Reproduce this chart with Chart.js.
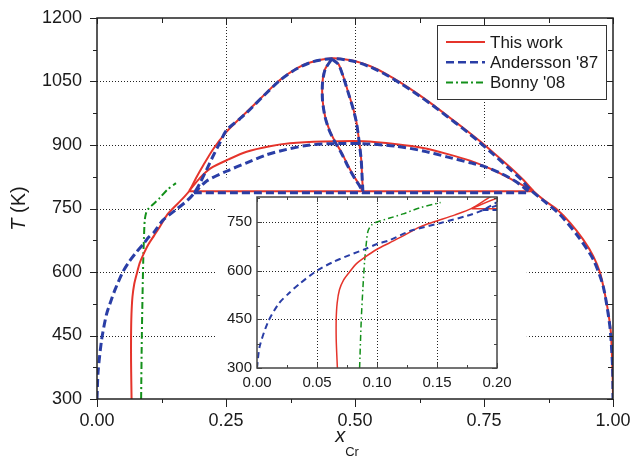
<!DOCTYPE html>
<html>
<head>
<meta charset="utf-8">
<script src="https://cdn.jsdelivr.net/npm/chart.js@4"></script>
<style>
  body { margin: 0; background: #fff; }
  #wrap { position: relative; width: 632px; height: 460px; background: #fff; }
  #main { position: absolute; left: 0; top: 0; }
  #inset { position: absolute; left: 216px; top: 180px; }
</style>
</head>
<body>
<div id="wrap">
  <canvas id="main" width="632" height="460"></canvas>
  <canvas id="inset" width="300" height="212"></canvas>
</div>
<script>
// tick values
const mainXTicks = [0, 0.25, 0.5, 0.75, 1];
const mainYTicks = [300, 450, 600, 750, 900, 1050, 1200];
const insetXTicks = [0, 0.05, 0.1, 0.15, 0.2];
const insetYTicks = [300, 450, 600, 750];

// This work (red) : [x_Cr, T]
const redOuter = [[0.067,300],[0.0665,340],[0.066,390],[0.066,450],[0.0668,500],[0.0687,541],
  [0.0721,571],[0.0771,596],[0.0827,621],[0.0897,641],[0.10,666],[0.1106,686],[0.1218,707],
  [0.1358,735],[0.147,750],[0.165,772],[0.179,792],[0.192,822],[0.206,852],[0.225,890],[0.251,931],
  [0.277,963],[0.29,978],[0.322,1016],[0.355,1054],[0.387,1081],[0.413,1095],[0.455,1105],[0.497,1099],
  [0.53,1086],[0.56,1068],[0.59,1046],[0.62,1022],[0.65,996],[0.68,968],[0.71,940],[0.74,911],
  [0.77,880],[0.80,848],[0.825,819],[0.846,791],[0.865,771],[0.891,748],[0.917,716],[0.942,677],
  [0.962,637],[0.975,598],[0.984,550],[0.991,503],[0.996,456],[0.998,400],[0.9995,340],[1.0,300]];
const redInner = [[0.179,792],[0.200,823],[0.22,845],[0.255,866],[0.29,884],[0.335,897],[0.374,904],
  [0.439,908],[0.516,909],[0.581,902],[0.632,893],[0.678,879],[0.723,863],[0.762,844],[0.80,821],[0.846,791]];
const redTie = [[0.179,791],[0.846,791]];
const redLens = [[0.455,1104],[0.468,1091],[0.477,1063],[0.487,1024],[0.497,984],[0.503,953],[0.508,909],
  [0.512,866],[0.514,819],[0.515,790],[0.51,803],[0.5,822],[0.487,850],[0.474,882],[0.461,909],
  [0.450,937],[0.442,968],[0.437,1008],[0.437,1048],[0.442,1079],[0.455,1104]];

// Andersson '87 (blue)
const blueOuter = [[0.0,300],[0.0022,366],[0.0092,442],[0.0184,500],[0.0268,531],[0.0352,559],[0.05,600],
  [0.0631,626],[0.0771,648],[0.0911,668],[0.10,682],[0.1106,694],[0.1274,722],[0.153,747],[0.175,769],
  [0.188,786],[0.2,811],[0.2125,842],[0.225,874],[0.238,905],[0.251,935],[0.277,962],[0.29,976],
  [0.322,1015],[0.355,1053],[0.387,1080],[0.419,1097],[0.455,1104],[0.497,1098],[0.53,1084],
  [0.56,1066],[0.59,1044],[0.62,1020],[0.65,994],[0.68,966],[0.71,938],[0.74,908],[0.77,876],
  [0.80,843],[0.82,821],[0.839,795],[0.871,763],[0.897,736],[0.930,688],[0.962,629],[0.981,566],
  [0.994,471],[0.999,380],[1.0,300]];
const blueInner = [[0.188,786],[0.2126,815],[0.251,838],[0.29,858],[0.329,877],[0.355,886],[0.406,899],
  [0.452,903],[0.516,903],[0.581,897],[0.632,886],[0.678,872],[0.723,858],[0.749,850],[0.781,834],
  [0.81,815],[0.836,791]];
const blueTie = [[0.188,787],[0.836,787]];
const blueLens = [[0.455,1103],[0.468,1090],[0.477,1062],[0.487,1023],[0.497,983],[0.503,952],[0.508,908],
  [0.512,865],[0.514,818],[0.515,788],[0.51,801],[0.5,820],[0.487,848],[0.474,880],[0.461,907],
  [0.450,935],[0.442,966],[0.437,1006],[0.437,1046],[0.442,1078],[0.455,1103]];

// Bonny '08 (green)
const greenSolvus = [[0.0855,300],[0.0869,450],[0.0883,549],[0.0897,631],[0.091,681],[0.0925,722],
  [0.0953,740],[0.10,750],[0.1106,762],[0.1218,775],[0.1358,794],[0.153,810]];

const RED = '#e5342b', BLUE = '#2a3ea6', GREEN = '#13901a';
const FONT = "'Liberation Sans', Arial, sans-serif";

function series(pts, color, width, dash) {
  return {
    data: pts.map(p => ({ x: p[0], y: p[1] })),
    borderColor: color, backgroundColor: color, borderWidth: width,
    borderDash: dash, pointRadius: 0, showLine: true, fill: false, tension: 0.25
  };
}

function buildSets(small) {
  const bw = small ? 2 : 3, rw = small ? 1.5 : 2, gw = small ? 1.5 : 2;
  const bd = small ? [6, 4] : [8, 4];
  const gd = small ? [6, 3, 1.5, 3] : [7, 3, 2, 3];
  return [
    series(blueOuter, BLUE, bw, bd), series(blueInner, BLUE, bw, bd),
    series(blueTie, BLUE, bw, bd), series(blueLens, BLUE, bw, bd),
    series(redOuter, RED, rw, []), series(redInner, RED, rw, []),
    series(redTie, RED, rw, []), series(redLens, RED, rw, []),
    series(greenSolvus, GREEN, gw, gd)
  ];
}

// grid, frame, ticks, legend, titles
const decor = {
  id: 'decor',
  beforeDatasetsDraw(chart, args, o) {
    const { ctx, chartArea: a, scales: { x, y } } = chart;
    ctx.save();
    ctx.strokeStyle = '#222';
    ctx.lineWidth = 1;
    ctx.setLineDash([1, 2]);
    ctx.beginPath();
    o.gridX.forEach(v => {
      const p = Math.round(x.getPixelForValue(v)) + 0.5;
      ctx.moveTo(p, a.top); ctx.lineTo(p, a.bottom);
    });
    o.gridY.forEach(v => {
      const p = Math.round(y.getPixelForValue(v)) + 0.5;
      ctx.moveTo(a.left, p); ctx.lineTo(a.right, p);
    });
    ctx.stroke();
    ctx.setLineDash([]);
    if (o.mask) {
      const m = o.mask;
      const l = x.getPixelForValue(m[0]), r = x.getPixelForValue(m[1]);
      const t = y.getPixelForValue(m[3]);
      ctx.fillStyle = '#fff';
      ctx.fillRect(l, t, r - l, a.bottom - t - 1);
    }
    ctx.restore();
  },
  afterDatasetsDraw(chart, args, o) {
    const { ctx, chartArea: a, scales: { x, y } } = chart;
    ctx.save();
    ctx.strokeStyle = o.frameColor;
    ctx.lineWidth = 1.5;
    ctx.setLineDash([]);
    ctx.strokeRect(a.left, a.top, a.right - a.left, a.bottom - a.top);
    ctx.lineWidth = 1;
    ctx.beginPath();
    const t = o.ticks;
    for (let v = x.min; v <= x.max + 1e-9; v += t.xMinor) {
      const major = Math.abs(v / t.xMajor - Math.round(v / t.xMajor)) < 1e-6;
      const p = Math.round(x.getPixelForValue(v)) + 0.5;
      const lb = major ? t.bottom[0] : t.bottom[1];
      const lt = major ? t.top[0] : t.top[1];
      ctx.moveTo(p, a.bottom); ctx.lineTo(p, a.bottom + lb);
      ctx.moveTo(p, a.top); ctx.lineTo(p, a.top + lt);
    }
    for (let v = y.min; v <= y.max + 1e-9; v += t.yMinor) {
      const major = Math.abs(v / t.yMajor - Math.round(v / t.yMajor)) < 1e-6;
      const p = Math.round(y.getPixelForValue(v)) + 0.5;
      const ll = major ? t.left[0] : t.left[1];
      const lr = major ? t.right[0] : t.right[1];
      ctx.moveTo(a.left, p); ctx.lineTo(a.left - ll, p);
      ctx.moveTo(a.right, p); ctx.lineTo(a.right - lr, p);
    }
    ctx.stroke();
    ctx.restore();
  },
  afterDraw(chart, args, o) {
    if (!o.legend) return;
    const { ctx, chartArea: a } = chart;
    ctx.save();
    // legend box
    const L = o.legend;
    ctx.fillStyle = '#fff';
    ctx.fillRect(L.x, L.y, L.w, L.h);
    ctx.strokeStyle = '#333';
    ctx.lineWidth = 1;
    ctx.strokeRect(L.x + 0.5, L.y + 0.5, L.w, L.h);
    ctx.font = '17px ' + FONT;
    ctx.textBaseline = 'middle';
    ctx.fillStyle = '#1a1a1a';
    L.items.forEach((it, i) => {
      const yy = L.y + 17 + i * 20.3;
      ctx.strokeStyle = it.color;
      ctx.lineWidth = it.width;
      ctx.setLineDash(it.dash);
      ctx.beginPath();
      ctx.moveTo(L.x + 9, yy); ctx.lineTo(L.x + 48, yy);
      ctx.stroke();
      ctx.setLineDash([]);
      ctx.fillText(it.label, L.x + 53, yy + 1);
    });
    // axis titles
    ctx.fillStyle = '#1a1a1a';
    ctx.textBaseline = 'alphabetic';
    ctx.font = 'italic 20px ' + FONT;
    const xw = ctx.measureText('x').width;
    ctx.font = '13px ' + FONT;
    const cw = ctx.measureText('Cr').width;
    const sx = 347 - (xw + cw) / 2;
    ctx.font = 'italic 20px ' + FONT;
    ctx.fillText('x', sx, 442);
    ctx.font = '13px ' + FONT;
    ctx.fillText('Cr', sx + xw, 456);
    ctx.translate(25, (a.top + a.bottom) / 2);
    ctx.rotate(-Math.PI / 2);
    ctx.font = 'italic 20px ' + FONT;
    const tw = ctx.measureText('T').width;
    ctx.font = '20px ' + FONT;
    const kw = ctx.measureText(' (K)').width;
    ctx.font = 'italic 20px ' + FONT;
    ctx.fillText('T', -(tw + kw) / 2, 0);
    ctx.font = '20px ' + FONT;
    ctx.fillText(' (K)', -(tw + kw) / 2 + tw, 0);
    ctx.restore();
  }
};

// labels are offset with an invisible tick mark so the layout padding stays as set
function axis(min, max, ticks, digits, size, gap, fit, horiz) {
  return {
    type: 'linear', min: min, max: max,
    afterBuildTicks: s => { s.ticks = ticks.map(v => ({ value: v })); },
    afterFit: s => { if (horiz) s.height = fit; else s.width = fit; },
    grid: { display: true, drawOnChartArea: false, drawTicks: true, tickLength: gap, color: 'rgba(0,0,0,0)' },
    border: { display: false },
    ticks: {
      padding: 0, color: '#1a1a1a', autoSkip: false, maxRotation: 0,
      font: { family: FONT, size: size },
      callback: v => digits ? Number(v).toFixed(digits) : String(v)
    }
  };
}

new Chart(document.getElementById('main'), {
  type: 'scatter',
  data: { datasets: buildSets(false) },
  options: {
    responsive: false, animation: false, devicePixelRatio: 1,
    layout: { padding: { top: 18, right: 19, left: 0, bottom: 0 } },
    scales: {
      x: axis(0, 1, mainXTicks, 2, 18, 11, 61, true),
      y: axis(300, 1200, mainYTicks, 0, 18, 15, 97, false)
    },
    plugins: {
      legend: { display: false }, tooltip: { enabled: false },
      decor: {
        gridX: [0.25, 0.5, 0.75], gridY: [450, 600, 750, 900, 1050],
        mask: [0.23, 0.833, 300, 823],
        frameColor: '#222',
        ticks: { xMajor: 0.25, xMinor: 0.125, yMajor: 150, yMinor: 75,
          bottom: [8, 4], top: [6, 5], left: [7, 4], right: [6, 5] },
        legend: { x: 437, y: 25, w: 169, h: 74, items: [
          { label: 'This work', color: RED, width: 2, dash: [] },
          { label: "Andersson '87", color: BLUE, width: 2.5, dash: [8, 4] },
          { label: "Bonny '08", color: GREEN, width: 2, dash: [7, 3, 2, 3] }
        ] }
      }
    }
  },
  plugins: [decor]
});

new Chart(document.getElementById('inset'), {
  type: 'scatter',
  data: { datasets: buildSets(true) },
  options: {
    responsive: false, animation: false, devicePixelRatio: 1,
    layout: { padding: { top: 17, right: 19, left: 0, bottom: 0 } },
    scales: {
      x: axis(0, 0.2, insetXTicks, 2, 15, 6, 24, true),
      y: axis(300, 827, insetYTicks, 0, 15, 5, 41, false)
    },
    plugins: {
      legend: { display: false }, tooltip: { enabled: false },
      decor: {
        gridX: [0.05, 0.1, 0.15], gridY: [450, 600, 750],
        frameColor: '#444',
        ticks: { xMajor: 0.05, xMinor: 0.025, yMajor: 150, yMinor: 75,
          bottom: [-5, -3], top: [5, 3], left: [-5, -3], right: [5, 3] }
      }
    }
  },
  plugins: [decor]
});
</script>
</body>
</html>
